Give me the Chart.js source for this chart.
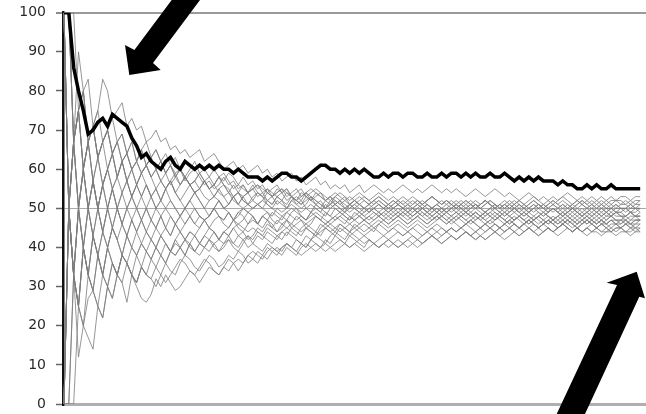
<!DOCTYPE html>
<html><head><meta charset="utf-8">
<script src="https://cdn.jsdelivr.net/npm/chart.js@4/dist/chart.umd.min.js"></script>
<style>html,body{margin:0;padding:0;background:#fff}#wrap{width:646px;height:414px}</style>
</head><body><div id="wrap"><canvas id="c" width="646" height="414"></canvas></div>
<script>
const yTicks = [0,10,20,30,40,50,60,70,80,90,100];

const thick = [100,100,86,80,75,69,70,72,73,71, 74,73,72,71,68,66,63,64,62,61, 60,62,63,61,60,62,61,60,61,60, 61,60,61,60,60,59,60,59,58,58,
58,57,58,57,58,59,59,58,58,57, 58,59,60,61,61,60,60,59,60,59, 60,59,60,59,58,58,59,58,59,59, 58,59,59,58,58,59,58,58,59,58,
59,59,58,59,58,59,58,58,59,58, 58,59,58,57,58,57,58,57,58,57, 57,57,56,57,56,56,55,55,56,55, 56,55,55,56,55,55,55,55,55,55];

const s1 = [100,50,67,90,80,67,71,63,67,70, 64,67,69,64,67,62,65,61,63,60, 62,59,61,58,60,57,59,60,58,56, 57,55,56,58,56,57,55,56,54,55,
56,54,55,53,54,55,53,54,55,53, 54,52,53,54,52,53,51,52,53,51, 52,53,52,51,52,53,52,51,50,51, 52,51,50,51,52,51,50,51,50,49,
50,51,50,49,50,51,50,49,50,51, 50,51,50,51,52,51,50,51,50,51, 50,51,50,51,50,51,52,51,50,51, 50,51,50,51,50,51,51,50,51,51];
const s2 = [100,50,67,75,60,67,71,75,83,80, 73,75,77,71,73,70,71,67,68,70, 67,68,65,66,64,65,63,64,65,62, 63,64,62,60,61,62,60,61,59,60,
61,59,60,58,59,57,58,59,57,58, 56,57,58,56,57,55,56,55,56,54, 55,56,54,55,56,55,54,55,54,55, 56,55,54,55,54,55,56,55,54,55,
54,55,54,53,54,55,54,53,54,55, 54,53,54,53,52,53,54,53,52,53, 52,53,52,53,54,53,52,53,52,53, 52,53,52,53,52,53,53,52,53,53];
const s3 = [0,50,33,12,20,27,29,25,22,30, 27,33,31,36,33,31,35,33,37,35, 38,36,39,41,40,38,41,43,41,40, 42,44,42,41,43,45,43,44,42,43,
45,44,46,45,44,46,47,45,46,47, 45,46,48,47,46,47,48,47,46,48, 47,46,47,48,47,48,49,48,47,48, 49,48,47,48,49,48,47,48,49,48,
47,48,49,48,49,48,47,48,49,48, 49,48,49,50,49,48,49,48,49,48, 49,50,49,48,49,48,49,50,49,48, 49,48,49,48,49,49,48,49,48,49];
const s4 = [0,50,33,50,40,33,29,25,22,30, 36,33,31,26,33,31,35,33,32,30, 33,36,34,33,36,38,37,35,34,36, 38,37,35,36,38,37,39,38,36,37,
39,38,37,39,40,39,41,40,39,41, 40,42,41,40,42,41,43,42,41,43, 42,41,40,42,41,40,41,42,41,40, 41,42,43,42,41,42,43,42,43,44,
43,42,43,44,43,44,43,42,43,44, 43,44,45,44,43,44,45,44,43,44, 45,44,43,44,45,44,45,44,43,44, 44,43,44,44,43,44,44,43,44,44];
const s5 = [100,50,33,25,40,50,43,38,33,40, 36,33,38,36,33,30,27,26,28,32, 30,33,31,29,30,32,34,33,31,33, 35,34,33,35,37,36,34,36,38,37,
36,38,40,39,38,40,41,40,42,41, 40,42,43,42,41,43,44,43,42,44, 43,42,41,42,41,40,41,40,41,42, 41,40,41,42,41,42,43,42,41,42,
43,42,43,44,43,42,43,44,45,44, 45,44,45,46,45,44,45,46,45,44, 45,44,45,46,45,44,45,44,45,46, 45,46,45,44,45,45,46,45,45,45];
const s6 = [0,0,33,25,40,33,29,38,33,30, 27,33,38,36,40,38,35,39,37,40, 38,41,39,42,40,38,41,39,38,40, 42,41,39,40,42,41,43,42,40,41,
43,42,44,43,42,44,43,45,44,43, 45,44,43,45,46,45,44,46,45,44, 46,45,44,45,46,47,46,45,46,47, 46,45,46,47,46,45,46,47,48,47,
46,47,48,47,46,47,48,47,46,47, 48,47,46,47,48,47,46,47,48,47, 46,47,48,47,46,47,46,47,48,47, 46,47,46,47,47,46,47,46,47,47];
const s7 = [100,100,67,75,60,67,57,63,56,60, 64,58,62,57,60,56,59,61,58,60, 62,59,61,58,56,58,56,57,55,57, 55,56,58,56,55,53,54,56,54,55,
53,54,52,53,55,54,52,53,51,52, 54,53,51,52,50,51,53,52,50,51, 52,51,50,49,50,51,50,49,50,51, 50,49,48,49,50,49,48,49,50,49,
48,49,50,49,48,49,48,49,50,49, 48,49,48,47,48,49,48,47,48,49, 48,47,48,49,48,47,48,49,48,47, 48,47,48,49,48,48,47,48,48,48];
const s8 = [0,50,67,50,60,50,57,50,44,50, 45,50,46,43,47,50,47,44,47,45, 48,45,43,46,44,46,48,46,45,47, 45,47,48,46,45,47,49,48,46,48,
46,48,49,47,46,48,47,49,50,48, 47,49,50,49,48,50,51,50,49,51, 50,49,50,51,50,49,50,51,52,51, 50,51,50,49,50,51,50,51,52,51,
50,51,52,51,50,51,50,49,50,51, 50,49,50,51,50,49,50,51,50,49, 50,51,50,49,50,51,50,49,50,51, 50,51,50,50,51,50,50,51,50,50];
const s9 = [100,50,33,50,60,67,71,63,67,60, 64,67,62,64,60,62,59,61,63,60, 57,59,56,58,60,58,56,54,55,57, 55,53,55,56,54,53,51,53,54,52,
51,52,54,53,51,52,50,52,51,50, 51,53,52,51,50,52,51,50,49,50, 51,50,49,50,51,52,51,50,51,52, 51,50,51,52,51,52,53,52,51,52,
51,52,51,50,51,52,51,52,51,50, 51,52,51,50,51,50,51,52,51,50, 51,52,51,52,51,50,51,52,51,52, 51,52,51,52,52,51,52,51,52,52];
const s10 = [0,50,67,75,60,50,43,50,56,50, 45,42,46,50,53,50,47,50,47,45, 43,45,48,46,44,42,44,43,45,47, 45,44,42,44,43,45,46,45,44,45,
44,43,45,44,43,44,45,44,43,45, 46,45,44,46,45,44,45,46,45,44, 45,44,43,44,45,44,43,44,45,44, 43,44,43,42,43,44,43,44,45,44,
45,44,45,46,45,44,45,46,45,46, 45,46,47,46,45,46,47,46,45,46, 47,46,45,46,47,46,45,46,47,46, 45,46,45,46,46,45,46,45,46,46];
const s11 = [100,100,100,75,80,67,71,75,67,70, 64,58,62,64,67,62,65,61,58,60, 57,55,57,54,56,58,56,54,55,53, 52,53,55,53,51,53,54,52,51,52,
54,53,51,50,52,51,50,52,53,52, 50,49,51,50,49,48,50,49,48,47, 49,48,47,48,49,48,47,48,49,50, 49,48,49,50,49,48,49,50,49,50,
49,50,51,50,49,50,49,48,49,50, 49,48,49,50,49,48,49,50,49,48, 49,50,49,48,49,50,49,48,49,50, 49,50,49,50,49,50,50,49,50,50];
const s12 = [0,50,33,25,40,50,57,50,44,40, 45,50,54,50,47,44,47,50,53,50, 48,50,52,50,48,46,48,50,48,47, 48,50,52,50,49,47,49,50,51,50,
51,52,51,50,49,48,49,50,49,48, 47,48,49,48,47,46,47,48,47,46, 47,48,47,46,47,48,47,46,47,48, 47,46,47,48,47,46,47,48,47,46,
47,48,47,46,47,48,47,46,47,48, 47,46,47,48,47,46,47,48,47,46, 47,48,47,46,47,48,47,46,47,48, 47,46,47,48,47,47,46,47,47,47];
const s13 = [100,50,67,50,40,33,43,38,44,50, 55,50,46,43,40,38,41,44,42,40, 43,41,39,42,44,42,40,39,41,43, 42,40,39,41,42,40,39,41,43,42,
44,43,42,41,43,42,44,43,42,41, 43,42,44,43,45,44,43,45,44,43, 44,45,46,45,44,46,45,44,45,46, 45,44,45,46,45,44,45,46,45,44,
45,44,45,46,47,46,45,46,45,44, 45,46,45,44,45,46,45,44,45,46, 45,44,45,46,45,44,45,44,45,44, 45,44,44,45,44,45,44,44,45,44];
const s14 = [100,100,67,50,60,67,57,50,56,60, 55,58,54,57,60,56,53,56,53,55, 52,55,57,54,52,50,52,54,52,50, 52,53,52,50,51,53,51,50,49,50,
51,50,49,48,50,49,50,51,50,49, 50,51,50,49,51,50,51,52,51,50, 51,52,53,52,51,52,51,50,51,52, 53,52,51,52,51,52,53,52,51,52,
51,50,51,52,51,50,51,52,51,50, 49,50,51,50,49,50,49,50,51,50, 49,50,49,48,49,50,49,48,49,48, 49,48,49,48,49,48,48,49,48,48];
const s15 = [0,0,33,50,40,50,57,63,56,50, 55,50,54,57,53,50,53,56,53,55, 57,55,57,59,56,58,56,54,55,57, 55,56,58,56,54,56,54,53,54,56,
54,53,55,54,53,54,55,53,52,54, 53,52,54,53,52,53,52,51,52,53, 52,51,52,51,52,53,52,51,50,51, 50,49,50,51,50,49,50,49,48,49,
50,49,48,49,48,49,48,47,48,49, 48,47,48,49,48,47,48,47,46,47, 48,47,46,47,48,47,46,47,46,47, 46,47,46,47,46,47,47,46,47,47];
const s16 = [100,50,33,50,60,50,43,38,44,40, 36,33,38,36,33,38,41,39,42,40, 38,36,39,38,40,42,41,39,41,43, 45,44,42,44,45,47,45,44,46,47,
46,48,47,45,47,46,45,46,48,47, 46,47,48,47,49,48,47,48,49,48, 47,48,49,50,49,48,49,50,49,48, 49,50,49,50,51,50,49,50,49,50,
51,50,49,50,51,50,51,52,51,50, 51,50,51,52,51,50,51,52,51,50, 51,52,51,50,51,50,51,52,51,50, 51,50,51,50,51,50,50,51,50,51];
const s17 = [0,50,67,75,80,67,57,50,56,60, 64,67,62,57,53,56,59,56,53,50, 52,55,52,50,48,50,52,50,48,47, 48,50,48,47,49,47,46,47,49,48,
46,45,47,46,44,45,47,46,45,44, 45,44,43,44,45,46,45,44,45,46, 45,46,47,46,45,46,47,46,47,48, 47,46,47,48,47,46,47,48,47,46,
47,46,45,46,47,46,45,46,47,46, 45,46,47,46,45,46,47,46,45,46, 47,46,45,46,47,46,45,46,47,46, 45,46,46,45,46,45,46,46,45,46];
const s18 = [100,100,67,75,60,50,57,50,44,50, 55,58,62,57,53,56,59,61,58,55, 52,55,57,54,52,54,56,57,59,57, 55,56,54,53,54,52,51,53,51,50,
51,50,52,51,53,52,51,53,52,51, 53,52,51,50,52,51,50,49,50,51, 50,49,48,49,50,49,48,49,50,49, 48,49,50,49,48,49,50,51,50,49,
50,51,50,49,50,51,50,51,52,51, 50,51,50,49,50,51,50,49,50,51, 50,49,50,51,50,49,50,51,50,49, 50,49,50,49,50,50,49,50,50,49];
const s19 = [0,50,33,25,20,33,43,38,33,40, 45,42,38,43,47,44,41,39,37,40, 43,41,39,38,40,42,44,43,41,40, 39,41,42,44,43,41,40,42,43,41,
40,39,41,40,39,40,41,40,39,38, 39,40,41,40,39,40,41,42,41,40, 41,42,43,42,41,42,43,42,43,44, 43,44,45,44,43,44,45,44,43,44,
45,44,45,44,43,44,45,44,45,46, 45,44,45,46,45,46,47,46,45,46, 47,46,47,48,47,46,47,48,47,46, 47,48,47,48,47,47,48,47,48,47];
const s20 = [100,50,67,75,80,83,71,63,67,70, 64,58,62,64,60,62,65,67,63,65, 62,64,61,59,60,58,56,57,59,57, 58,60,58,57,59,58,56,55,54,55,
56,55,54,53,54,55,54,53,52,53, 54,55,54,53,52,53,54,53,52,51, 52,51,50,51,52,51,50,51,52,51, 50,51,52,51,50,51,50,49,50,51,
52,51,50,51,52,51,50,51,52,51, 50,51,52,51,52,51,52,53,52,51, 52,51,52,53,52,51,52,51,52,51, 52,51,52,51,52,52,51,52,51,52];
const s21 = [0,0,0,25,20,17,14,25,33,30, 36,33,38,43,40,44,47,44,42,45, 48,45,43,46,48,50,48,46,48,47, 48,50,48,47,49,47,48,50,49,48,
46,48,47,49,48,47,49,48,47,48, 47,49,48,47,46,47,48,49,48,47, 48,49,48,47,48,49,48,47,48,49, 48,47,48,49,48,47,48,49,48,47,
48,49,48,47,48,49,48,49,48,47, 48,49,48,47,48,49,48,47,48,49, 48,47,48,49,48,49,48,47,48,49, 48,49,48,48,49,48,48,49,48,48];
const s22 = [100,50,33,25,40,33,43,50,56,60, 55,50,46,50,53,56,53,50,47,50, 52,50,48,46,48,50,52,54,52,50, 48,50,52,50,51,53,54,52,51,53,
54,53,52,51,53,52,54,53,52,51, 52,53,52,51,50,51,52,51,50,49, 50,51,50,49,50,51,50,49,48,49, 50,49,48,49,50,49,48,47,48,49,
48,47,48,49,48,47,48,49,48,47, 48,47,46,47,48,47,46,47,48,47, 46,47,46,47,46,45,46,47,46,47, 46,47,46,47,46,46,47,46,46,47];
const s23 = [0,50,33,50,40,33,29,38,33,40, 45,42,38,36,33,31,35,33,32,35, 33,31,33,35,37,36,34,33,35,37, 36,34,33,35,34,36,37,36,38,39,
38,37,39,40,39,38,40,39,38,40, 41,40,39,40,41,40,39,40,41,40, 41,40,39,40,41,40,41,42,41,40, 41,42,41,40,41,42,43,42,41,42,
43,42,43,44,43,42,43,42,43,44, 43,42,43,44,43,44,45,44,43,44, 45,44,45,46,45,44,45,44,45,44, 45,44,45,44,45,45,44,45,44,45];
const s24 = [100,100,67,50,60,67,71,63,67,70, 73,67,69,64,60,62,59,61,63,65, 62,59,61,63,60,58,60,62,59,60, 58,56,58,59,57,55,56,58,56,57,
55,56,54,55,56,54,55,53,54,55, 53,54,55,54,53,52,53,54,53,52, 53,54,53,52,53,54,53,52,53,52, 51,52,53,52,51,52,53,52,51,52,
51,50,51,52,51,50,51,52,51,50, 51,50,49,50,51,50,49,50,51,50, 49,50,49,50,49,50,49,48,49,50, 49,50,49,50,49,49,50,49,49,50];

const thinSeries = [s1,s2,s3,s4,s5,s6,s7,s8,s9,s10,s11,s12,s13,s14,s15,s16,s17,s18,s19,s20,s21,s22,s23,s24];

function toPoints(arr){ return arr.map((v,i)=>({x:i+1,y:v})); }

const datasets = thinSeries.map(s=>({
  data: toPoints(s), borderColor:'rgba(125,125,125,0.8)', borderWidth:1, pointRadius:0, tension:0, order:2
}));
datasets.push({data: toPoints(thick), borderColor:'#000', borderWidth:3.5, pointRadius:0, tension:0, order:1});

const arrowPlugin = {
  id:'arrows',
  afterDraw(chart){
    const c = chart.ctx;
    const shapes = [
      [[171.7,0],[134.4,50],[125,45],[129.3,75],[160.7,70],[153,63],[200,0]],
      [[556.7,414],[617,285],[606.7,282.7],[636.7,271.7],[645,298.3],[639.3,296.7],[585,414]]
    ];
    c.save(); c.fillStyle='#000';
    shapes.forEach(p=>{ c.beginPath(); p.forEach(([x,y],i)=> i? c.lineTo(x,y): c.moveTo(x,y)); c.closePath(); c.fill(); });
    c.restore();
  }
};

new Chart(document.getElementById('c'), {
  type:'line',
  data:{datasets},
  options:{
    responsive:false, animation:false, devicePixelRatio:1,
    layout:{padding:{top:12.7,bottom:10,left:0,right:0}},
    plugins:{legend:{display:false}, tooltip:{enabled:false}},
    scales:{
      x:{type:'linear', min:0.8, max:121.2, display:false},
      y:{
        min:0, max:100,
        afterBuildTicks(s){ s.ticks = yTicks.map(v=>({value:v})); },
        afterFit(s){ s.width = 63; s.paddingTop = 0; s.paddingBottom = 0; },
        ticks:{color:'#2a2a2a', font:{family:'DejaVu Sans', size:14}, padding:10},
        grid:{
          color(ctx){ const v=ctx.tick&&ctx.tick.value; return v===100?'#9a9a9a':(v===50?'#aaaaaa':(v===0?'#b0b0b0':'rgba(0,0,0,0)')); },
          lineWidth(ctx){ const v=ctx.tick&&ctx.tick.value; return v===100?2:(v===50?1:(v===0?3:1)); },
          tickColor:'#666', tickWidth:1.5, tickLength:7, drawTicks:true
        },
        border:{color:'#111', width:2.5}
      }
    }
  },
  plugins:[arrowPlugin]
});
</script>
</body></html>
